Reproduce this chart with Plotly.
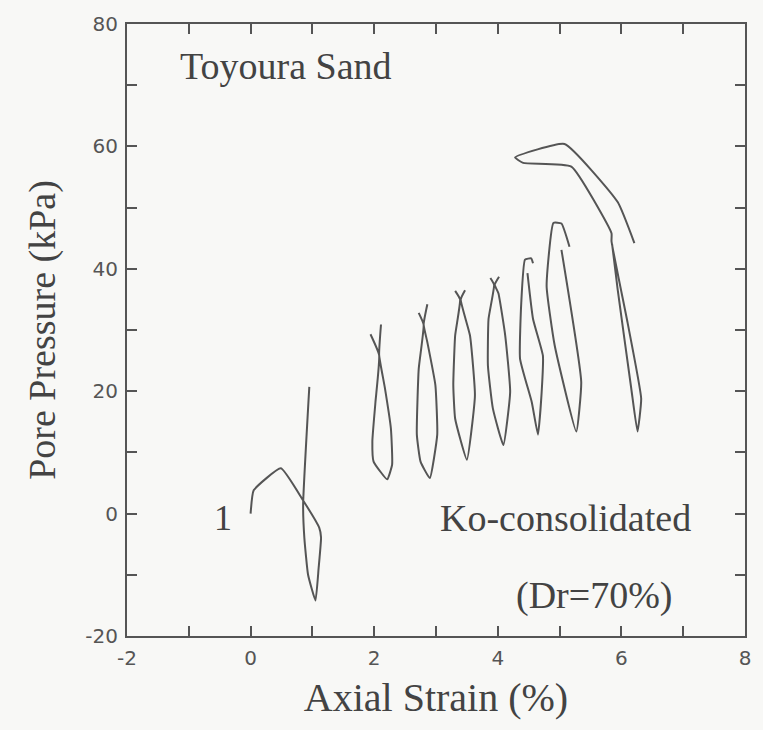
import plotly.graph_objects as go

# Pore pressure response of Ko-consolidated Toyoura sand, cycle by cycle
# (axial strain in %, pore pressure in kPa)
cycle1_strain = [0.00, 0.05, 0.49, 0.84, 1.11, 1.14, 1.10, 1.05, 0.93, 0.87, 0.85, 0.95]
cycle1_pp = [0.0, 3.8, 7.4, 2.3, -2.3, -3.9, -9.0, -14.2, -10.0, -4.0, 1.5, 20.7]

cycle2_strain = [1.94, 2.08, 2.02, 1.97, 1.99, 2.21, 2.29, 2.27, 2.17, 2.08, 2.11]
cycle2_pp = [29.3, 25.9, 18.2, 11.8, 8.5, 5.6, 8.0, 13.9, 20.7, 25.9, 30.9]

cycle3_strain = [2.72, 2.80, 2.72, 2.69, 2.75, 2.90, 3.02, 2.99, 2.86, 2.80, 2.86]
cycle3_pp = [32.8, 30.9, 23.6, 12.9, 8.5, 5.8, 12.9, 21.0, 28.0, 30.9, 34.2]

cycle4_strain = [3.31, 3.39, 3.31, 3.28, 3.31, 3.50, 3.63, 3.55, 3.40, 3.47]
cycle4_pp = [36.4, 35.0, 29.1, 21.0, 15.5, 8.8, 19.3, 29.1, 35.0, 36.5]

cycle5_strain = [3.88, 3.94, 3.85, 3.84, 3.92, 4.09, 4.20, 4.12, 4.01, 3.95, 4.02]
cycle5_pp = [38.5, 37.4, 31.8, 24.2, 17.2, 11.2, 19.9, 29.1, 36.0, 37.4, 38.7]

cycle6_strain = [4.57, 4.54, 4.44, 4.38, 4.36, 4.55, 4.65, 4.71, 4.73, 4.57, 4.48]
cycle6_pp = [40.9, 41.7, 41.5, 34.5, 25.3, 18.2, 12.9, 19.9, 25.8, 31.8, 39.3]

cycle7_strain = [5.03, 5.35, 5.27, 4.92, 4.79, 4.90, 5.03, 5.16]
cycle7_pp = [43.1, 21.5, 13.4, 27.5, 37.2, 47.5, 47.4, 43.6]

cycle8_strain = [6.21, 5.94, 5.08, 4.28, 4.41, 5.19, 5.84, 5.84, 6.10, 6.32, 6.26, 6.16, 5.94, 5.85]
cycle8_pp = [44.2, 50.9, 60.4, 58.2, 57.3, 56.7, 45.8, 44.5, 31.2, 18.8, 13.4, 20.4, 36.6, 44.0]

cycles = [
    (cycle1_strain, cycle1_pp),
    (cycle2_strain, cycle2_pp),
    (cycle3_strain, cycle3_pp),
    (cycle4_strain, cycle4_pp),
    (cycle5_strain, cycle5_pp),
    (cycle6_strain, cycle6_pp),
    (cycle7_strain, cycle7_pp),
    (cycle8_strain, cycle8_pp),
]

x_ticks = list(range(-2, 9))
x_tick_text = [str(v) if v % 2 == 0 else "" for v in x_ticks]
y_ticks = list(range(-20, 81, 10))
y_tick_text = [str(v) if v % 20 == 0 else "" for v in y_ticks]

INK = "#555555"
TEXT = "#434343"
SERIF = "Liberation Serif, Times New Roman, serif"
SANS = "DejaVu Sans, Liberation Sans, sans-serif"

fig = go.Figure()
for strain, pp in cycles:
    fig.add_trace(go.Scatter(
        x=strain, y=pp, mode="lines",
        line=dict(color=INK, width=2, shape="spline", smoothing=0.4),
        showlegend=False, hoverinfo="skip",
    ))

axis_common = dict(
    showline=True, linecolor=INK, linewidth=2, mirror="ticks",
    ticks="inside", ticklen=10, tickwidth=2, tickcolor=INK,
    showgrid=False, zeroline=False,
    tickfont=dict(family=SANS, size=20, color="#555555"),
)

fig.update_xaxes(
    range=[-2, 8], tickmode="array", tickvals=x_ticks, ticktext=x_tick_text,
    ticklabelstandoff=3,
    title=dict(text="Axial Strain (%)", font=dict(family=SERIF, size=40, color=TEXT), standoff=14),
    **axis_common,
)
fig.update_yaxes(
    range=[-20, 80], tickmode="array", tickvals=y_ticks, ticktext=y_tick_text,
    ticklabelstandoff=3,
    title=dict(text="Pore Pressure (kPa)", font=dict(family=SERIF, size=38, color=TEXT), standoff=18),
    **axis_common,
)

notes = [
    ("Toyoura Sand", 0.58, 73.2, 38),
    ("1", -0.45, -0.7, 36),
    ("Ko-consolidated", 5.10, -0.7, 38),
    ("(Dr=70%)", 5.56, -13.4, 38),
]
for text, nx, ny, size in notes:
    fig.add_annotation(
        x=nx, y=ny, xref="x", yref="y", text=text, showarrow=False,
        font=dict(family=SERIF, size=size, color=TEXT),
        xanchor="center", yanchor="middle",
    )

fig.update_layout(
    width=763, height=730,
    margin=dict(l=127, r=15, t=19, b=94),
    paper_bgcolor="#f8f8f6", plot_bgcolor="#f8f8f6",
)

fig.write_html("out.html")
